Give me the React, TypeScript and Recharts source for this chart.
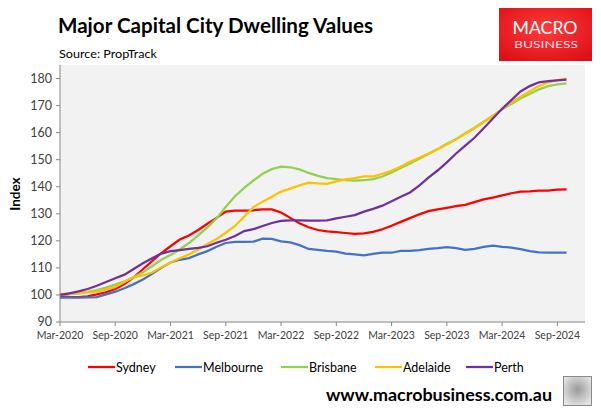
import React from 'react';
import { LineChart, Line, XAxis, YAxis, CartesianGrid } from 'recharts';

// monthly index values, Mar-2020 .. Oct-2024
const sydney = [
  99.6, 99.3, 99.2, 99.5, 100.2, 101.0, 102.2, 104.0, 106.5, 109.5, 112.5, 115.5,
  118.0, 120.5, 122.0, 124.0, 126.3, 128.5, 130.8, 131.2, 131.2, 131.3, 131.6, 131.6,
  130.5, 128.5, 126.5, 125.0, 124.0, 123.5, 123.2, 122.9, 122.6, 122.8, 123.3, 124.3,
  125.6, 127.0, 128.4, 129.8, 131.0, 131.6, 132.2, 132.8, 133.3, 134.3, 135.3, 136.0,
  136.8, 137.6, 138.2, 138.3, 138.6, 138.6, 138.9, 139.0,
];
const melbourne = [
  99.0, 99.0, 99.0, 99.1, 99.2, 100.2, 101.2, 102.5, 104.0, 105.7, 107.8, 110.0,
  112.0, 113.0, 113.6, 115.0, 116.2, 117.8, 119.2, 119.6, 119.6, 119.7, 120.8, 120.7,
  119.8, 119.4, 118.4, 117.0, 116.7, 116.3, 116.0, 115.3, 115.0, 114.6, 115.2, 115.6,
  115.6, 116.3, 116.3, 116.6, 117.0, 117.3, 117.7, 117.3, 116.7, 117.0, 117.8, 118.2,
  117.8, 117.5, 116.9, 116.2, 115.7, 115.6, 115.6, 115.6,
];
const brisbane = [
  100.0, 100.3, 100.6, 101.1, 101.8, 102.7, 103.8, 105.0, 106.6, 108.4, 110.6, 113.0,
  114.8, 116.8, 119.2, 122.0, 125.0, 128.3, 132.6, 136.5, 139.6, 142.3, 144.8, 146.5,
  147.4, 147.2, 146.4, 145.1, 144.0, 143.2, 142.8, 142.4, 142.3, 142.4, 142.8, 143.8,
  145.3, 146.9, 148.6, 150.3, 152.1, 153.9, 155.9, 157.6, 159.8, 161.8, 164.0, 166.3,
  168.6, 170.6, 172.6, 174.3, 176.0, 177.2, 177.8, 178.2,
];
const adelaide = [
  100.3, 100.5, 100.7, 101.0, 101.2, 102.0, 103.0, 104.8, 106.5, 107.2, 108.3, 110.2,
  112.0, 113.6, 115.0, 116.7, 118.8, 120.7, 123.0, 125.5, 129.0, 132.5, 134.5, 136.3,
  138.2, 139.3, 140.5, 141.5, 141.2, 141.1, 142.0, 142.7, 143.2, 143.8, 143.8, 144.8,
  145.9, 147.5, 149.2, 150.7, 152.3, 153.9, 155.6, 157.5, 159.6, 161.6, 163.8, 166.2,
  168.8, 171.2, 173.3, 175.3, 177.2, 178.6, 179.4, 180.0,
];
const perth = [
  100.0, 100.6, 101.3, 102.2, 103.4, 104.8, 106.2, 107.5, 109.6, 111.7, 113.6, 115.3,
  116.2, 116.6, 117.0, 117.4, 118.0, 119.3, 120.4, 121.8, 123.6, 124.3, 125.5, 126.6,
  127.4, 127.6, 127.6, 127.5, 127.5, 127.6, 128.3, 128.9, 129.5, 130.8, 131.8, 133.0,
  134.6, 136.3, 137.9, 140.4, 143.4, 146.0, 149.0, 152.3, 155.2, 158.1, 161.6, 165.2,
  168.8, 172.0, 175.2, 177.2, 178.6, 179.0, 179.3, 179.6,
];

const xTickLabels = [
  'Mar-2020', 'Sep-2020', 'Mar-2021', 'Sep-2021', 'Mar-2022',
  'Sep-2022', 'Mar-2023', 'Sep-2023', 'Mar-2024', 'Sep-2024',
];
const yTicks = [90, 100, 110, 120, 130, 140, 150, 160, 170, 180];

const series = [
  { key: 'sydney', name: 'Sydney', color: '#ff0000' },
  { key: 'melbourne', name: 'Melbourne', color: '#4472c4' },
  { key: 'brisbane', name: 'Brisbane', color: '#92d050' },
  { key: 'adelaide', name: 'Adelaide', color: '#ffc000' },
  { key: 'perth', name: 'Perth', color: '#7030a0' },
];
const legendX = [88, 175, 281, 375, 466];

const data = sydney.map((v, i) => ({
  m: i,
  sydney: v,
  melbourne: melbourne[i],
  brisbane: brisbane[i],
  adelaide: adelaide[i],
  perth: perth[i],
}));

const font = 'Lato, "Open Sans", sans-serif';
const axisColor = '#868686';

export default function App() {
  return (
    <div style={{ position: 'absolute', left: 0, top: 0, width: 601, height: 408, background: '#fff', fontFamily: font }}>
      <div style={{ position: 'absolute', left: 0, top: 0 }}>
        <LineChart width={601} height={408} data={data} margin={{ top: 65, right: 16, bottom: 56, left: 0 }}>
          <CartesianGrid fill="#f2f2f2" stroke="none" horizontal={false} vertical={false} />
          <XAxis
            dataKey="m"
            type="number"
            domain={[0, 57]}
            ticks={[0, 6, 12, 18, 24, 30, 36, 42, 48, 54]}
            tickFormatter={(v) => xTickLabels[v / 6]}
            height={30}
            stroke={axisColor}
            tickSize={4}
            tickMargin={6}
            tick={{ fill: '#404040', fontSize: 10.5, fontFamily: font }}
            interval={0}
          />
          <YAxis
            domain={[90, 185]}
            ticks={yTicks}
            width={60}
            stroke={axisColor}
            tickSize={4}
            tickMargin={4}
            tick={{ fill: '#404040', fontSize: 12.5, fontFamily: font }}
            interval={0}
          />
          {series.map((s) => (
            <Line
              key={s.key}
              type="linear"
              dataKey={s.key}
              name={s.name}
              stroke={s.color}
              strokeWidth={2.25}
              dot={false}
              isAnimationActive={false}
            />
          ))}
        </LineChart>
      </div>
      <svg width={601} height={408} style={{ position: 'absolute', left: 0, top: 0, pointerEvents: 'none' }}>
        <text x={58} y={33} fontSize={21} fontWeight={700} fill="#000" textLength={315} lengthAdjust="spacingAndGlyphs" fontFamily={font}>
          Major Capital City Dwelling Values
        </text>
        <text x={59} y={58} fontSize={11.5} fill="#000" textLength={98} lengthAdjust="spacingAndGlyphs" fontFamily={font}>
          Source: PropTrack
        </text>
        {/* logo */}
        <defs>
          <radialGradient id="logoGrad" cx="0.5" cy="0.4" r="0.7">
            <stop offset="0%" stopColor="#ff3b3b" />
            <stop offset="100%" stopColor="#dc1016" />
          </radialGradient>
        </defs>
        <rect x={499} y={8} width={93} height={53} fill="url(#logoGrad)" />
        <text x={545} y={33.5} fontSize={17.5} fill="#fff" textAnchor="middle" textLength={65} lengthAdjust="spacingAndGlyphs" fontFamily={font}>
          MACRO
        </text>
        <text x={546} y={47.5} fontSize={10} fill="#fde" textAnchor="middle" textLength={64} lengthAdjust="spacingAndGlyphs" fontFamily={font}>
          BUSINESS
        </text>
        {/* y axis title */}
        <text x={0} y={0} fontSize={13.5} fontWeight={700} fill="#000" textAnchor="middle" fontFamily={font} transform="translate(20,194) rotate(-90)">
          Index
        </text>
        {/* legend */}
        {series.map((s, i) => (
          <g key={s.key}>
            <line x1={legendX[i]} x2={legendX[i] + 27} y1={367} y2={367} stroke={s.color} strokeWidth={2.25} />
            <text x={legendX[i] + 28} y={371.5} fontSize={12.5} fill="#000" fontFamily={font}>
              {s.name}
            </text>
          </g>
        ))}
        <text x={326} y={401} fontSize={17} fontWeight={700} fill="#000" textLength={226} lengthAdjust="spacingAndGlyphs" fontFamily={font}>
          www.macrobusiness.com.au
        </text>
        {/* wolf badge */}
        <defs>
          <radialGradient id="wolfGrad" cx="0.5" cy="0.45" r="0.6">
            <stop offset="0%" stopColor="#9a9a9a" />
            <stop offset="100%" stopColor="#e4e4e4" />
          </radialGradient>
        </defs>
        <rect x={563.5} y={376.5} width={28} height={29} fill="url(#wolfGrad)" stroke="#8a8a8a" strokeWidth={1} />
      </svg>
    </div>
  );
}
